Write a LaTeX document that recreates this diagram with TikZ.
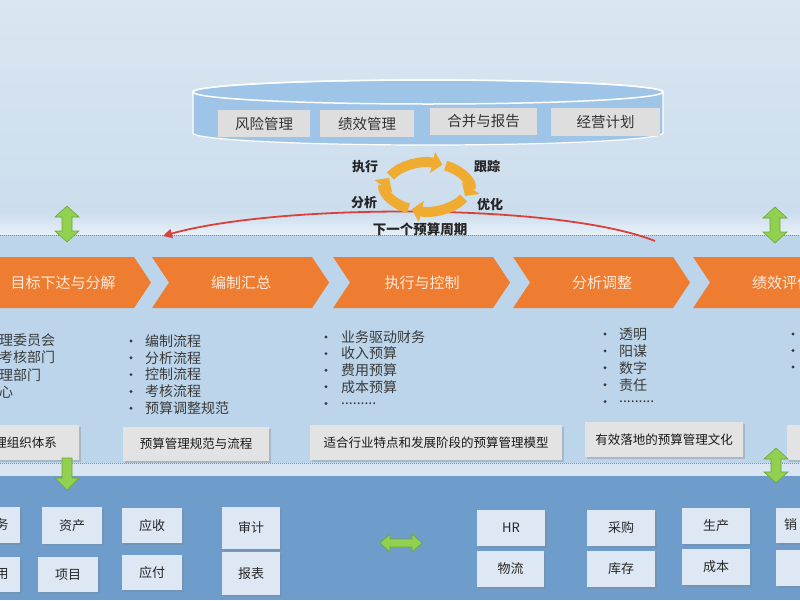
\documentclass[tikz,border=0pt]{standalone}
\usepackage{fontspec}
\setmainfont{Noto Sans CJK SC}
\usetikzlibrary{arrows.meta,shadows}
\definecolor{cTopA}{HTML}{DAE6F1}
\definecolor{cTopB}{HTML}{CCDDED}
\definecolor{cBand}{HTML}{E8F0F8}
\definecolor{cMid}{HTML}{BCD5EB}
\definecolor{cBand2}{HTML}{D9E6F2}
\definecolor{cBot}{HTML}{6E9DCB}
\definecolor{cCyl}{HTML}{9EC4E7}
\definecolor{cGray}{HTML}{DEDEDE}
\definecolor{cGray2}{HTML}{E3E3E3}
\definecolor{cBox}{HTML}{DDE8F4}
\definecolor{cOrange}{HTML}{EE7D31}
\definecolor{cPeach}{HTML}{FDEBDD}
\definecolor{cText}{HTML}{3A3A3A}
\definecolor{cGreen}{HTML}{92D050}
\definecolor{cGreenD}{HTML}{6AA63A}
\definecolor{cRing}{HTML}{F0AC30}
\definecolor{cRed}{HTML}{D9413A}
\definecolor{cDotP}{HTML}{B06AA8}
\definecolor{cDotR}{HTML}{E06A6A}
\newcommand\mydots{.........}
\newcommand\chevron[1]{%
  \fill[chev] (#1,257) -- (#1+160,257) -- (#1+177,282.5) -- (#1+160,308) -- (#1,308) -- (#1+17,282.5) -- cycle;}
\newcommand\gvarrow[3]{% x, ytop, ybottom
  \path[garrow] (#1,#2) -- (#1+12,#2+11) -- (#1+5,#2+11) -- (#1+5,#3-11) -- (#1+12,#3-11) -- (#1,#3) -- (#1-12,#3-11) -- (#1-5,#3-11) -- (#1-5,#2+11) -- (#1-12,#2+11) -- cycle;}
\newcommand\bx[7]{% name, x1,y1,x2,y2, style, text
  \node[#6, minimum width={#4-#2}, minimum height={#5-#3}] (#1) at ({(#2+#4)/2},{(#3+#5)/2}) {#7};}
\newcommand\ringseg[2]{%
  \draw[ring] ({427+41*cos(#1)},{187+24*sin(#1)}) arc[start angle=#1, end angle=#2, x radius=41, y radius=24];}
\begin{document}
\begin{tikzpicture}[x=1pt,y=-1pt,
  chev/.style={fill=cOrange},
  chevtxt/.style={text=cPeach, font=\fontsize{15}{18}\selectfont, inner sep=0},
  cylbox/.style={fill=cGray, inner sep=0, text=black!80, font=\fontsize{14.5}{17}\selectfont},
  cyclbl/.style={font=\bfseries\fontsize{13}{15}\selectfont, text=black!85, inner sep=0},
  itemtxt/.style={anchor=west, inner sep=0, text=cText, font=\fontsize{14}{17}\selectfont},
  gbox/.style={fill=cGray2, inner sep=0, drop shadow={shadow xshift=2pt,shadow yshift=-2pt,opacity=.35}, font=\fontsize{12.5}{15}\selectfont, text=black!90},
  bbox/.style={fill=cBox, inner sep=0, drop shadow={shadow xshift=2pt,shadow yshift=-2pt,opacity=.3}, font=\fontsize{13}{15}\selectfont, text=black!85},
  garrow/.style={fill=cGreen, draw=cGreenD, line width=.6pt},
  ring/.style={draw=cRing, line width=10pt, -{Triangle[length=10pt,width=21pt]}},
]
\useasboundingbox (0,0) rectangle (800,600);
\clip (0,0) rectangle (800,600);
% backgrounds
\shade[top color=cTopA, bottom color=cTopB] (0,0) rectangle (800,213);
\shade[top color=cTopB, bottom color=cBand] (0,212) rectangle (800,235);
\fill[cMid] (0,235) rectangle (800,463);
\fill[cBand2] (0,463) rectangle (800,476);
\fill[cBot] (0,476) rectangle (800,600);
\draw[cDotP, densely dotted, line width=1pt] (0,235) -- (800,235);
\draw[cDotR, densely dotted, line width=1pt] (0,463) -- (800,463);

% cylinder
\path[fill=cCyl, draw=white, line width=1.2pt] (193,92) -- (193,133) arc[start angle=180, end angle=0, x radius=235, y radius=12] -- (663,92) arc[start angle=0, end angle=-180, x radius=235, y radius=12] -- cycle;
\draw[white, line width=1.5pt] (428,92) ellipse [x radius=235, y radius=12];
\bx{c1}{218}{110}{310}{137}{cylbox}{风险管理}
\bx{c2}{320}{110}{414}{137}{cylbox}{绩效管理}
\bx{c3}{430}{108}{537}{135}{cylbox}{合并与报告}
\bx{c4}{551}{108}{660}{136}{cylbox}{经营计划}

% next cycle arc
\coordinate (arcL) at (163,236);
\coordinate (arcR) at (655,241);
\draw[cRed, line width=1.8pt, {Triangle[length=9pt,width=9pt]}-] (arcL) .. controls (280,203) and (560,203) .. (arcR);

% cycle ring
\ringseg{207}{292}
\ringseg{297}{382}
\ringseg{27}{112}
\ringseg{117}{202}
\node[cyclbl] (l1) at (365,167) {执行};
\node[cyclbl] (l2) at (487,167) {跟踪};
\node[cyclbl] (l3) at (364,203) {分析};
\node[cyclbl] (l4) at (490,205) {优化};
\node[cyclbl, font=\bfseries\fontsize{13.5}{15}\selectfont] (next) at (420,229) {下一个预算周期};

% chevrons
\chevron{-26}
\chevron{152}
\chevron{333}
\chevron{513}
\chevron{693}
\node[chevtxt] (h1) at (63,283) {目标下达与分解};
\node[chevtxt] (h2) at (241,283) {编制汇总};
\node[chevtxt] (h3) at (422,283) {执行与控制};
\node[chevtxt] (h4) at (602,283) {分析调整};
\node[chevtxt, anchor=west] (h5) at (752,283) {绩效评价};

% bullet lists
\foreach \t [count=\i] in {理委员会,考核部门,理部门,心}
  \node[itemtxt] (a\i) at (-1,{340+(\i-1)*17.5}) {\t};
\foreach \t [count=\i] in {编制流程,分析流程,控制流程,考核流程,预算调整规范}{
  \fill[cText] (131,{341+(\i-1)*16.8}) circle (1.6pt);
  \node[itemtxt] (b\i) at (145,{341+(\i-1)*16.8}) {\t};}
\foreach \t [count=\i] in {业务驱动财务,收入预算,费用预算,成本预算,\mydots}{
  \fill[cText] (326,{337+(\i-1)*16.6}) circle (1.6pt);
  \node[itemtxt] (d\i) at (341,{337+(\i-1)*16.6}) {\t};}
\foreach \t [count=\i] in {透明,阳谋,数字,责任,\mydots}{
  \fill[cText] (605,{334+(\i-1)*16.9}) circle (1.6pt);
  \node[itemtxt] (e\i) at (619,{334+(\i-1)*16.9}) {\t};}
\foreach \i in {1,2,3}
  \fill[cText] (793,{334+(\i-1)*16.5}) circle (1.6pt);

% gray boxes
\bx{g1}{-40}{425}{79}{460}{gbox}{}
\node[inner sep=0, font=\fontsize{12.5}{15}\selectfont, text=black!90, anchor=east] (g1t) at (57,443) {理组织体系};
\bx{g2}{123}{427}{269}{461}{gbox}{预算管理规范与流程}
\bx{g3}{310}{425}{562}{460}{gbox}{适合行业特点和发展阶段的预算管理模型}
\bx{g4}{585}{422}{743}{457}{gbox}{有效落地的预算管理文化}
\bx{g5}{787}{425}{840}{460}{gbox}{}

% green arrows
\gvarrow{67}{206}{242}
\gvarrow{775}{207}{243}
\gvarrow{776}{448}{483}
\path[garrow] (62,458) -- (72,458) -- (72,478) -- (79,478) -- (67,490) -- (55,478) -- (62,478) -- cycle;
\path[garrow] (380,543) -- (390,534) -- (390,539) -- (412,539) -- (412,534) -- (422,543) -- (412,552) -- (412,547) -- (390,547) -- (390,552) -- cycle;

% bottom boxes
\bx{k1}{-40}{507}{20}{543}{bbox}{}
\node[inner sep=0, font=\fontsize{13}{15}\selectfont, text=black!85] (k1t) at (2,525) {务};
\bx{k2}{-40}{557}{20}{592}{bbox}{}
\node[inner sep=0, font=\fontsize{13}{15}\selectfont, text=black!85] (k2t) at (2,574) {用};
\bx{k3}{42}{507}{102}{544}{bbox}{资产}
\bx{k4}{38}{557}{98}{592}{bbox}{项目}
\bx{k5}{122}{508}{182}{543}{bbox}{应收}
\bx{k6}{122}{555}{182}{590}{bbox}{应付}
\bx{k7}{222}{507}{280}{549}{bbox}{审计}
\bx{k8}{222}{552}{280}{595}{bbox}{报表}
\bx{r1}{477}{510}{545}{546}{bbox}{HR}
\bx{r2}{477}{551}{544}{587}{bbox}{物流}
\bx{r3}{587}{510}{655}{546}{bbox}{采购}
\bx{r4}{587}{551}{655}{587}{bbox}{库存}
\bx{r5}{682}{508}{750}{544}{bbox}{生产}
\bx{r6}{682}{549}{750}{585}{bbox}{成本}
\bx{r7}{776}{508}{840}{543}{bbox}{}
\node[inner sep=0, font=\fontsize{13}{15}\selectfont, text=black!85, anchor=west] (r7t) at (784,525) {销};
\bx{r8}{776}{550}{840}{586}{bbox}{}
\end{tikzpicture}
\end{document}
